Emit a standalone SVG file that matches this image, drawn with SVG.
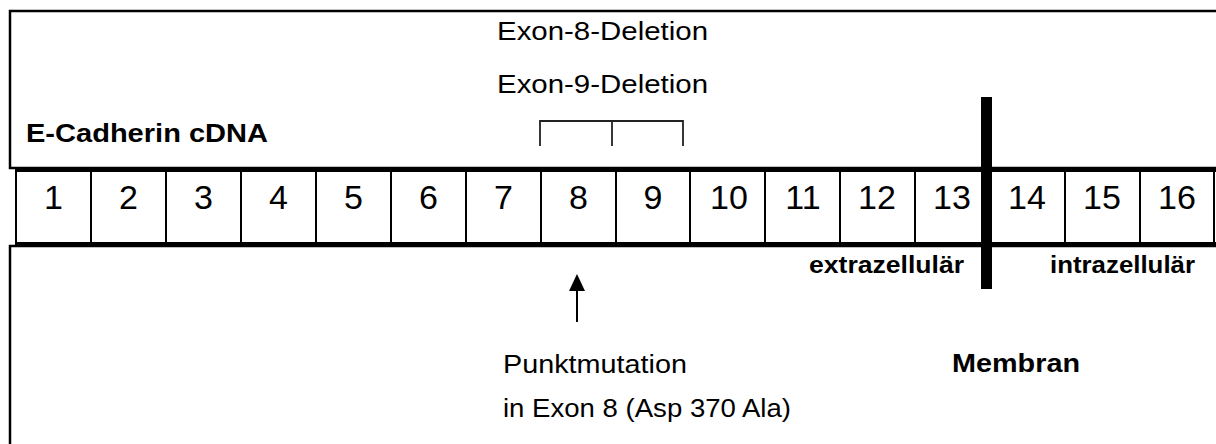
<svg xmlns="http://www.w3.org/2000/svg" width="1216" height="444" viewBox="0 0 1216 444">
<style>
.box{fill:none;stroke:#000;stroke-width:2.5}
.cellline{stroke:#000;stroke-width:2}
.rowline{stroke:#000;stroke-width:4}
.num{font-family:"Liberation Sans",Arial,sans-serif;font-size:34px;fill:#000;text-anchor:middle}
.reg{font-family:"Liberation Sans",Arial,sans-serif;font-size:26px;fill:#000}
.bold{font-family:"Liberation Sans",Arial,sans-serif;font-size:25px;font-weight:bold;fill:#000}
.br{fill:none;stroke:#222;stroke-width:1.8}
</style>
<rect width="1216" height="444" fill="#fff"/>
<g id="top-box">
<rect class="box" x="10" y="11" width="1215" height="157"/>
<text class="bold" x="26" y="142" textLength="242" lengthAdjust="spacingAndGlyphs">E-Cadherin cDNA</text>
<text class="reg" x="497" y="40" textLength="211" lengthAdjust="spacingAndGlyphs">Exon-8-Deletion</text>
<text class="reg" x="497" y="93" textLength="211" lengthAdjust="spacingAndGlyphs">Exon-9-Deletion</text>
</g>
<g id="bottom-box">
<rect class="box" x="10" y="246" width="1215" height="210"/>
<text class="bold" x="809" y="273" textLength="155" lengthAdjust="spacingAndGlyphs" style="font-size:23px">extrazellulär</text>
<text class="bold" x="1050" y="273" textLength="145" lengthAdjust="spacingAndGlyphs" style="font-size:23px">intrazellulär</text>
<text class="bold" x="952" y="372" textLength="128" lengthAdjust="spacingAndGlyphs">Membran</text>
<text class="reg" x="503" y="373" textLength="184" lengthAdjust="spacingAndGlyphs">Punktmutation</text>
<text class="reg" x="503" y="417" textLength="288" lengthAdjust="spacingAndGlyphs">in Exon 8 (Asp 370 Ala)</text>
</g>
<g id="exon-row">
<rect x="16" y="170" width="1198" height="74" fill="#fff"/>
<line class="cellline" x1="16" y1="170" x2="16" y2="244"/>
<line class="cellline" x1="91" y1="170" x2="91" y2="244"/>
<line class="cellline" x1="166" y1="170" x2="166" y2="244"/>
<line class="cellline" x1="241" y1="170" x2="241" y2="244"/>
<line class="cellline" x1="316" y1="170" x2="316" y2="244"/>
<line class="cellline" x1="391" y1="170" x2="391" y2="244"/>
<line class="cellline" x1="466" y1="170" x2="466" y2="244"/>
<line class="cellline" x1="541" y1="170" x2="541" y2="244"/>
<line class="cellline" x1="616" y1="170" x2="616" y2="244"/>
<line class="cellline" x1="690" y1="170" x2="690" y2="244"/>
<line class="cellline" x1="765" y1="170" x2="765" y2="244"/>
<line class="cellline" x1="840" y1="170" x2="840" y2="244"/>
<line class="cellline" x1="915" y1="170" x2="915" y2="244"/>
<line class="cellline" x1="1065" y1="170" x2="1065" y2="244"/>
<line class="cellline" x1="1140" y1="170" x2="1140" y2="244"/>
<line class="cellline" x1="1214" y1="170" x2="1214" y2="244"/>
<line class="rowline" x1="15" y1="170" x2="1216" y2="170"/>
<line class="rowline" x1="15" y1="244" x2="1216" y2="244"/>
<text class="num" x="53.5" y="209">1</text>
<text class="num" x="128.5" y="209">2</text>
<text class="num" x="203.5" y="209">3</text>
<text class="num" x="278.5" y="209">4</text>
<text class="num" x="353.5" y="209">5</text>
<text class="num" x="428.5" y="209">6</text>
<text class="num" x="503.5" y="209">7</text>
<text class="num" x="578.5" y="209">8</text>
<text class="num" x="653" y="209">9</text>
<text class="num" x="729" y="209">10</text>
<text class="num" x="803" y="209">11</text>
<text class="num" x="877" y="209">12</text>
<text class="num" x="952" y="209">13</text>
<text class="num" x="1027" y="209">14</text>
<text class="num" x="1102" y="209">15</text>
<text class="num" x="1177" y="209">16</text>
</g>
<g id="membrane">
<rect x="981" y="97" width="11" height="192" fill="#000"/>
</g>
<g id="connectors">
<path class="br" d="M540,146 V121 H683 V146 M612,121 V146"/>
<line x1="577" y1="322" x2="577" y2="289" stroke="#000" stroke-width="2"/>
<polygon points="577,274 569,291 585,291" fill="#000"/>
</g>
</svg>
